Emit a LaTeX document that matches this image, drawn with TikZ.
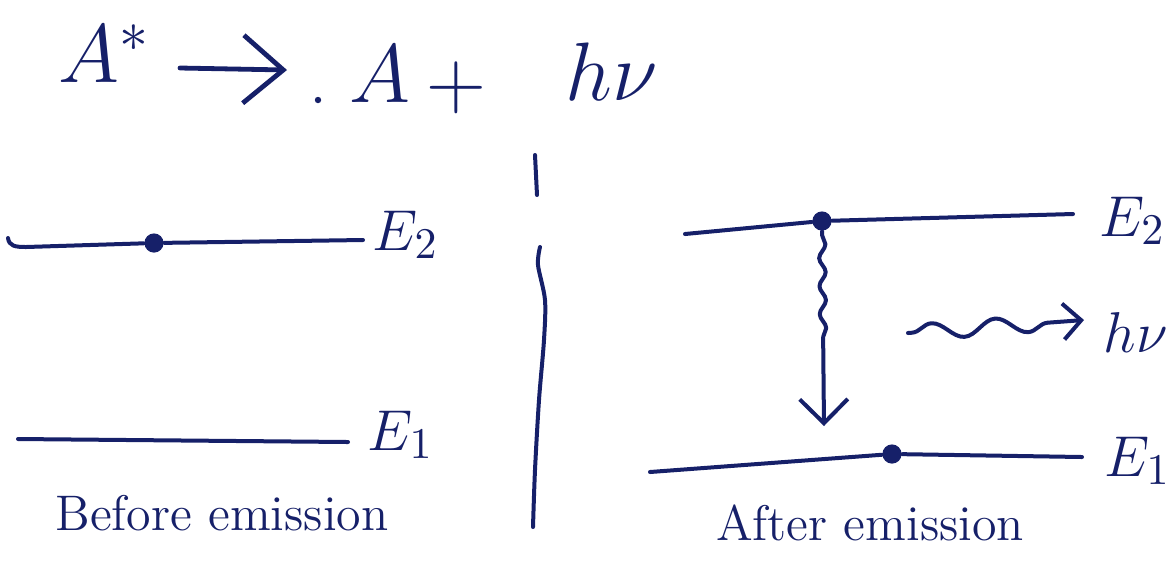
\documentclass[tikz,border=0pt]{standalone}
\usepackage{fontspec}
\usetikzlibrary{arrows.meta,decorations.pathmorphing}
\definecolor{ink}{RGB}{22,32,105}
\begin{document}
\begin{tikzpicture}[x=0.25pt,y=-0.25pt,
  pen/.style={draw=ink,line width=1pt,line cap=round,line join=round},
  dot/.style={circle,fill=ink,inner sep=0pt,minimum size=4.8pt},
  lvl/.style={text=ink,font=\fontsize{15}{18}\selectfont,inner sep=0pt},
  capt/.style={text=ink,font=\fontsize{12.5}{15}\selectfont,inner sep=0pt},
  ttl/.style={text=ink,font=\fontsize{20}{24}\selectfont,inner sep=0pt},
  wavy/.style={decorate,decoration={snake,amplitude=0.8pt,segment length=7pt,pre length=1pt,post length=22pt}},
  photon/.style={decorate,decoration={snake,amplitude=2pt,segment length=16pt,pre length=1pt,post length=5pt}}]
\useasboundingbox (0,0) rectangle (1168,581);

% ---------- title ----------
\node[ttl,anchor=base] (Astar) at (104,82) {$A^{*}$};
\coordinate (ar1) at (180,68);
\coordinate (ar2) at (287,70);
\draw[pen,line width=1.2pt,-{Straight Barb[length=10pt,width=17pt]}] (ar1) -- (ar2);
\node[circle,fill=ink,inner sep=0pt,minimum size=1.6pt] (stray) at (318,100) {};
\node[ttl,anchor=base] (A) at (380,102) {$A$};
\node[ttl] (plus) at (456,88) {$+$};
\node[ttl,anchor=base] (hnu) at (612,100) {$h\nu$};

% ---------- left: before emission ----------
\coordinate (L2a) at (8,238);
\coordinate (L2c) at (26,247);
\coordinate (L2b) at (363,240);
\node[dot] (d1) at (154,243) {};
\draw[pen] (L2a) .. controls (9,246) and (15,247) .. (L2c) -- (d1) -- (L2b);
\node[lvl,anchor=base west] (E2l) at (372,250) {$E_2$};

\coordinate (L1a) at (18,439);
\coordinate (L1b) at (348,442);
\draw[pen] (L1a) -- (L1b);
\node[lvl,anchor=base west] (E1l) at (367,450) {$E_1$};

\node[capt,anchor=base] (before) at (222,530) {Before emission};

% ---------- divider ----------
\draw[pen] (535,155) -- (537,195);
\draw[pen] plot[smooth] coordinates {(540,247) (538,265) (545,300) (544,340) (539,400) (535,470) (533,527)};

% ---------- right: after emission ----------
\coordinate (R2a) at (685,234);
\coordinate (R2b) at (1073,214);
\node[dot] (d2) at (822,221) {};
\draw[pen] (R2a) -- (d2) -- (R2b);
\node[lvl,anchor=base east] (E2r) at (1166,236) {$E_2$};

\coordinate (vtip) at (824,426);
\draw[pen,-{Straight Barb[length=6pt,width=12pt]},wavy] (d2) -- (vtip);

\coordinate (R1a) at (650,472);
\coordinate (R1b) at (1082,457);
\node[dot] (d3) at (892,454) {};
\draw[pen] (R1a) -- (d3) -- (R1b);
\node[lvl,anchor=base west] (E1r) at (1104,476) {$E_1$};

\coordinate (ph1) at (908,333);
\coordinate (ph2) at (1084,320);
\draw[pen,-{Straight Barb[length=4.5pt,width=9pt]},photon] (ph1) -- (ph2);
\node[lvl,anchor=base west] (hnu2) at (1103,352) {$h\nu$};

\node[capt,anchor=base] (after) at (870,540) {After emission};
\end{tikzpicture}
\end{document}
